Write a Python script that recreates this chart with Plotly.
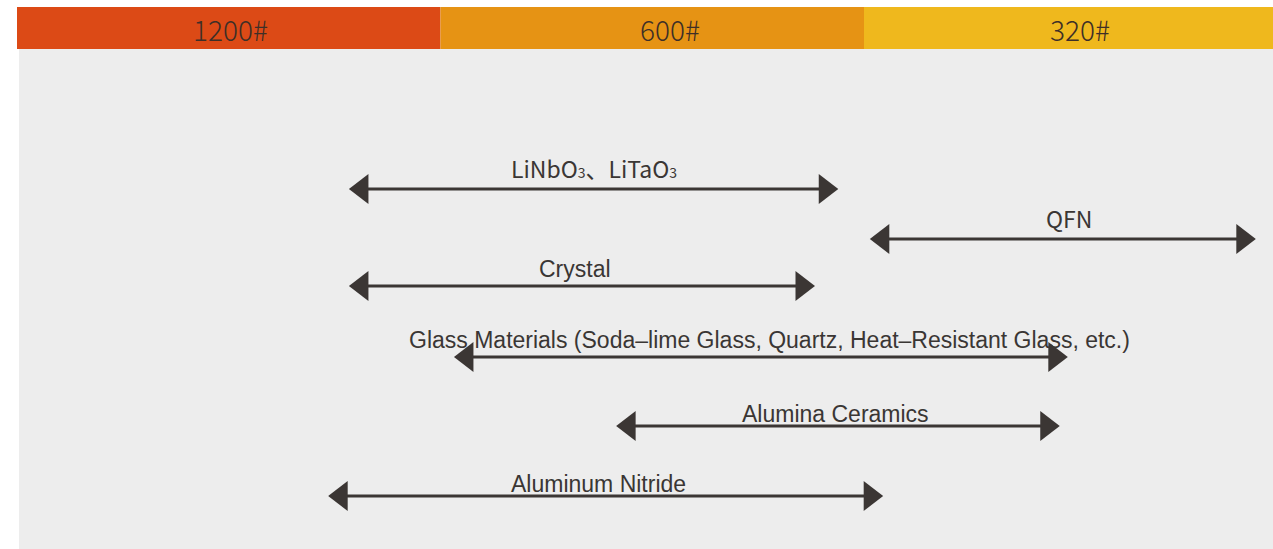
import plotly.graph_objects as go

# ---------------- data ----------------
grit_labels = ["1200#", "600#", "320#"]
grit_start = [0.0, 1.0, 2.0]          # in "grit band" units
grit_end = [1.0, 2.0, 2.966]
grit_label_x = [0.503, 1.542, 2.510]
grit_colors = ["#dc4a16", "#e69314", "#efb81d"]

materials = [
    "LiNbO<span style='font-size:14px'>3</span>、LiTaO<span style='font-size:14px'>3</span>",
    "QFN",
    "Crystal",
    "Glass Materials (Soda–lime Glass, Quartz, Heat–Resistant Glass, etc.)",
    "Alumina Ceramics",
    "Aluminum Nitride",
]
range_start = [0.779, 2.009, 0.779, 1.027, 1.410, 0.730]
range_end = [1.944, 2.930, 1.889, 2.486, 2.467, 2.050]
label_fonts = ["Noto Sans CJK SC", "Noto Sans CJK SC", "Liberation Sans",
               "Liberation Sans", "Liberation Sans", "Liberation Sans"]

# row placement (layout)
row_y = [189, 239, 286, 357, 426, 496]
label_gap = [21, 21, 17, 17, 12, 12]
label_dx = [0, 6, -7, 9, -2, -7]

# ---------------- layout constants ----------------
W, H = 1273, 549
PX_PER_UNIT = 423.5
X0_PX = 17
x_min = -X0_PX / PX_PER_UNIT
x_max = (W - X0_PX) / PX_PER_UNIT
ARROW_SIZE = 26
tip_off = (ARROW_SIZE / 2) * 2 / 3 ** 0.5 / PX_PER_UNIT  # tip-to-centre distance
LINE_COL = "#3b3634"
TEXT_COL = "#3a3634"

fig = go.Figure()

shapes = []
# grey panel
shapes.append(dict(type="rect", xref="x", yref="y", x0=(19 - X0_PX) / PX_PER_UNIT, x1=x_max,
                   y0=49, y1=H, fillcolor="#ededed", line=dict(width=0), layer="below"))
# grit header band
annotations = []
for lab, s, e, lx, c in zip(grit_labels, grit_start, grit_end, grit_label_x, grit_colors):
    shapes.append(dict(type="rect", xref="x", yref="y", x0=s, x1=e, y0=7, y1=49,
                       fillcolor=c, line=dict(width=0), layer="below"))
    annotations.append(dict(x=lx, y=29, xref="x", yref="y", text=lab, showarrow=False,
                            xanchor="center", yanchor="middle",
                            font=dict(family="Noto Sans CJK SC", size=28, color="#3e2f27", weight=300)))

for name, s, e, y, gap, dx, fam in zip(materials, range_start, range_end, row_y,
                                        label_gap, label_dx, label_fonts):
    fig.add_trace(go.Scatter(
        x=[s + tip_off, e - tip_off], y=[y, y], mode="lines+markers",
        line=dict(color=LINE_COL, width=3),
        marker=dict(symbol=["triangle-left", "triangle-right"], size=ARROW_SIZE,
                    color=LINE_COL, line=dict(width=0)),
        hoverinfo="skip", showlegend=False))
    annotations.append(dict(x=(s + e) / 2 + dx / PX_PER_UNIT, y=y - gap, xref="x", yref="y",
                            text=name, showarrow=False, xanchor="center", yanchor="middle",
                            font=dict(family=fam, size=23, color=TEXT_COL)))

fig.update_layout(
    width=W, height=H,
    margin=dict(l=0, r=0, t=0, b=0),
    paper_bgcolor="white", plot_bgcolor="white",
    xaxis=dict(range=[x_min, x_max], visible=False, fixedrange=True),
    yaxis=dict(range=[H, 0], visible=False, fixedrange=True),
    shapes=shapes, annotations=annotations,
    showlegend=False,
)

fig.write_html("out.html", config={"displayModeBar": False},
               post_script="document.body.style.margin='0';document.body.style.overflow='hidden';")
